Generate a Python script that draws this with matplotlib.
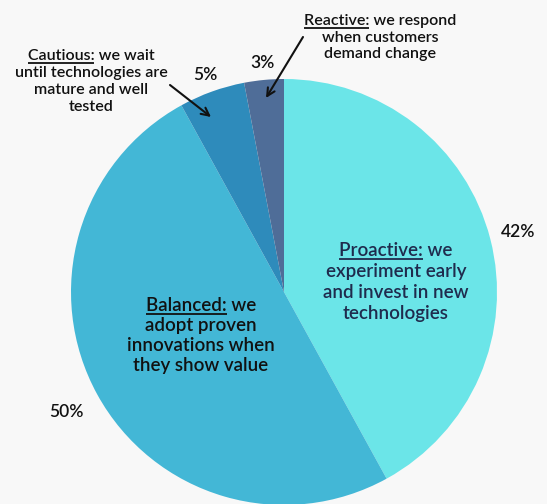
import numpy as np
import matplotlib
matplotlib.use("Agg")
from matplotlib import pyplot as plt

# Technology adoption stance of respondents
labels = ["Proactive", "Balanced", "Cautious", "Reactive"]
shares = [42, 50, 5, 3]
colors = ["#6be5e8", "#43b7d6", "#2e8bbb", "#4f6d98"]
pct_dist = [1.135, 1.165, 1.085, 1.08]

inside_text = {
    "Proactive": ["experiment early", "and invest in new", "technologies"],
    "Balanced": ["adopt proven", "innovations when", "they show value"],
}
outside_text = {
    "Cautious": ["until technologies are", "mature and well", "tested"],
    "Reactive": ["when customers", "demand change"],
}

W, H = 547, 504
fig = plt.figure(figsize=(W / 100, H / 100), dpi=100, facecolor="#f8f8f8")
ax = fig.add_axes([0, 0, 1, 1])

cx, cy, r = 284, H - 292, 213
wedges, _ = ax.pie(shares, colors=colors, startangle=90, counterclock=False,
                   center=(cx, cy), radius=r, frame=True,
                   wedgeprops=dict(linewidth=0))
ax.set_xlim(0, W)
ax.set_ylim(0, H)
ax.axis("off")

font = "Lato"
weight = "semibold"
renderer = fig.canvas.get_renderer()


def text_width(s, size):
    t = ax.text(0, 0, s, fontsize=size, family=font, fontweight=weight)
    w = t.get_window_extent(renderer).width
    t.remove()
    return w


def underlined(x, y, head, tail, size, color):
    # first line: underlined heading followed by plain text, centred on x
    full = head + " " + tail
    wf = text_width(full, size)
    wh = text_width(head, size)
    x0 = x - wf / 2
    ax.text(x0, y, full, fontsize=size, family=font, fontweight=weight,
            color=color, ha="left", va="baseline")
    ax.plot([x0, x0 + wh], [y - 3, y - 3], color=color, lw=1.3,
            solid_capstyle="butt")


def block(x, y, head, lines, size, color, step):
    underlined(x, H - y, head + ":", "we", size, color)
    for i, line in enumerate(lines):
        ax.text(x, H - y - step * (i + 1), line, fontsize=size, family=font,
                fontweight=weight, color=color, ha="center", va="baseline")


# percentage labels around the pie
for w, s, d in zip(wedges, shares, pct_dist):
    mid = np.deg2rad((w.theta1 + w.theta2) / 2)
    ax.text(cx + d * r * np.cos(mid), cy + d * r * np.sin(mid), f"{s}%",
            fontsize=12.5, family=font, fontweight=weight, color="#111111",
            ha="center", va="center")

block(396, 256, "Proactive", inside_text["Proactive"], 13.5, "#1f2b4d", 21)
block(201, 311, "Balanced", inside_text["Balanced"], 13.5, "#111111", 20)

# Cautious and Reactive notes sit outside with arrows
underlined(91, H - 60, "Cautious:", "we wait", 11.5, "#111111")
for i, line in enumerate(outside_text["Cautious"]):
    ax.text(91, H - 60 - 17 * (i + 1), line, fontsize=11.5, family=font,
            fontweight=weight, color="#111111", ha="center", va="baseline")
underlined(380, H - 25, "Reactive:", "we respond", 11.5, "#111111")
for i, line in enumerate(outside_text["Reactive"]):
    ax.text(380, H - 25 - 16.5 * (i + 1), line, fontsize=11.5, family=font,
            fontweight=weight, color="#111111", ha="center", va="baseline")

arrow = dict(arrowstyle="->", color="#111111", lw=1.5,
             shrinkA=0, shrinkB=0, mutation_scale=14)
ax.annotate("", xy=(211, H - 117), xytext=(170, H - 85), arrowprops=arrow)
ax.annotate("", xy=(266, H - 98), xytext=(303, H - 37), arrowprops=arrow)

fig.savefig("out.png", dpi=100, facecolor=fig.get_facecolor())
